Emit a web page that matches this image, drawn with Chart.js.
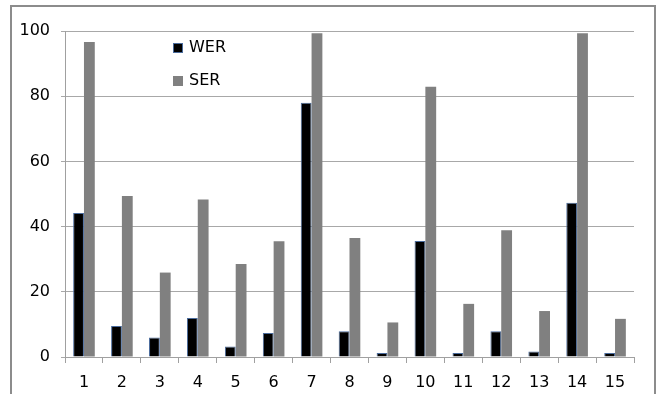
<!DOCTYPE html>
<html lang="en">
<head>
  <meta charset="UTF-8">
  <title>WER / SER</title>
  <script src="https://cdn.jsdelivr.net/npm/chart.js"></script>
  <style>
    html, body { margin: 0; padding: 0; background: #fff; overflow: hidden; }
    .wrap { position: relative; width: 657px; height: 394px; }
    .frame { position: absolute; left: 10px; top: 5px; width: 646px; height: 420px; border: 2px solid #8c8c8c; box-sizing: border-box; }
    canvas { position: absolute; left: 0; top: 0; }
  </style>
</head>
<body>
  <div class="wrap">
    <div class="frame"></div>
    <canvas id="chart" width="657" height="394"></canvas>
  </div>

  <script>
    const categories = ["1", "2", "3", "4", "5", "6", "7", "8", "9", "10", "11", "12", "13", "14", "15"];
    const werValues = [44.2, 9.5, 6.0, 12.0, 3.2, 7.4, 78.0, 7.9, 1.2, 35.6, 1.2, 7.9, 1.7, 47.3, 1.2];
    const serValues = [96.6, 49.4, 25.9, 48.3, 28.5, 35.5, 99.3, 36.5, 10.6, 82.9, 16.3, 38.9, 14.1, 99.3, 11.7];
    const yTicks = [0, 20, 40, 60, 80, 100];

    const tickFont = { family: "DejaVu Sans", size: 16 };

    // legend drawn inside the plot, stacked vertically
    const innerLegend = {
      id: "innerLegend",
      afterDraw(chart) {
        const ctx = chart.ctx;
        ctx.save();
        ctx.font = "16px 'DejaVu Sans'";
        ctx.textBaseline = "middle";
        chart.data.datasets.forEach((ds, i) => {
          const y = 48 + i * 33;
          ctx.fillStyle = ds.backgroundColor;
          ctx.fillRect(173, y - 5, 10, 10);
          if (ds.borderWidth) {
            ctx.strokeStyle = ds.borderColor;
            ctx.lineWidth = 1;
            ctx.strokeRect(173.5, y - 4.5, 9, 9);
          }
          ctx.fillStyle = "#000";
          ctx.fillText(ds.label, 189, y);
        });
        ctx.restore();
      }
    };

    new Chart(document.getElementById("chart"), {
      type: "bar",
      data: {
        labels: categories,
        datasets: [
          { label: "WER", data: werValues, backgroundColor: "#000000", borderColor: "#4a6b9c", borderWidth: 1 },
          { label: "SER", data: serValues, backgroundColor: "#808080", borderWidth: 0 }
        ]
      },
      options: {
        responsive: false,
        animation: false,
        events: [],
        layout: { padding: { top: 31, right: 23, bottom: 0, left: 0 } },
        datasets: { bar: { categoryPercentage: 0.57, barPercentage: 1.0 } },
        plugins: { legend: { display: false }, tooltip: { enabled: false } },
        scales: {
          x: {
            grid: { offset: true, drawOnChartArea: false, drawTicks: true, tickLength: 6, color: "#a0a0a0" },
            border: { color: "#a0a0a0", width: 1 },
            ticks: { color: "#000", font: tickFont, padding: 10 },
            afterFit(scale) { scale.height = 37; }
          },
          y: {
            min: 0,
            max: 100,
            afterBuildTicks(scale) { scale.ticks = yTicks.map(v => ({ value: v })); },
            grid: { color: "#a8a8a8", tickLength: 4 },
            border: { color: "#a0a0a0", width: 1 },
            ticks: { color: "#000", font: tickFont, padding: 11 },
            afterFit(scale) { scale.width = 65; }
          }
        }
      },
      plugins: [innerLegend]
    });
  </script>
</body>
</html>
